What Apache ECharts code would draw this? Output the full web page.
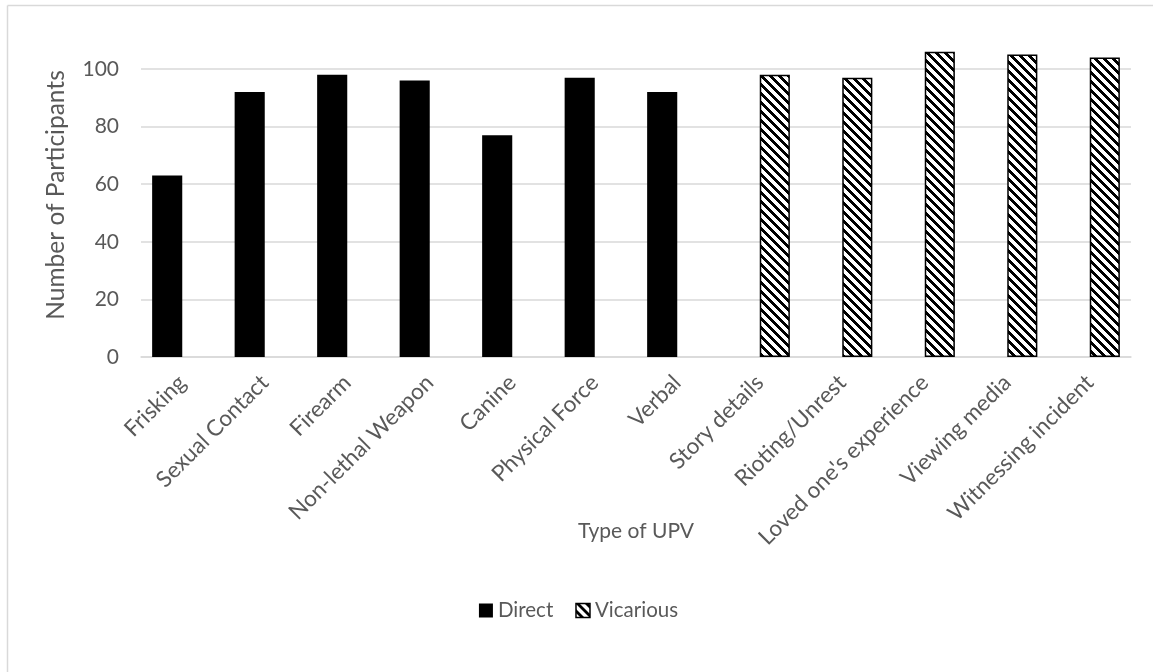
<!DOCTYPE html>
<html>
<head>
<meta charset="utf-8">
<script src="https://cdn.jsdelivr.net/npm/echarts@6/dist/echarts.min.js"></script>
<style>
html,body{margin:0;padding:0;background:#fff;}
#chart{width:1157px;height:672px;}
</style>
</head>
<body>
<div id="chart"></div>
<script>
const categories = ['Frisking','Sexual Contact','Firearm','Non-lethal Weapon','Canine','Physical Force','Verbal','Story details','Rioting/Unrest',"Loved one's experience",'Viewing media','Witnessing incident'];
const directValues = [63, 92, 98, 96, 77, 97, 92, null, null, null, null, null];
const vicariousValues = [null, null, null, null, null, null, null, 98, 97, 106, 105, 104];
const yTicks = [0, 20, 40, 60, 80, 100];

function makePattern() {
  const P = 9;
  const c = document.createElement('canvas');
  c.width = P; c.height = P;
  const ctx = c.getContext('2d');
  ctx.fillStyle = '#ffffff';
  ctx.fillRect(0, 0, P, P);
  ctx.fillStyle = '#000000';
  for (let y = 0; y < P; y++) {
    for (let x = 0; x < P; x++) {
      if (((x - y + 2 * P) % P) < 4) ctx.fillRect(x, y, 1, 1);
    }
  }
  return c;
}
const pattern = { image: makePattern(), repeat: 'repeat' };

const FONT = 'Lato';
const TXT = '#595959';
const chart = echarts.init(document.getElementById('chart'), null, { renderer: 'canvas' });
chart.setOption({
  animation: false,
  backgroundColor: '#ffffff',
  textStyle: { fontFamily: FONT },
  graphic: [
    { type: 'line', shape: { x1: 7.5, y1: 5.5, x2: 7.5, y2: 672 }, style: { stroke: '#d9d9d9', lineWidth: 1.5 } },
    { type: 'line', shape: { x1: 7.5, y1: 5.5, x2: 1153, y2: 5.5 }, style: { stroke: '#d9d9d9', lineWidth: 1.5 } }
  ],
  grid: { left: 141, right: 26, top: 69, bottom: 315, containLabel: false },
  legend: {
    bottom: 46,
    left: 'center',
    itemWidth: 14,
    itemHeight: 14,
    itemGap: 22,
    textStyle: { color: TXT, fontSize: 20.5, fontFamily: FONT },
    data: [
      { name: 'Direct', icon: 'rect', itemStyle: { color: '#000', borderWidth: 0 } },
      { name: 'Vicarious', icon: 'rect', itemStyle: { color: pattern, borderColor: '#000', borderWidth: 1.5 } }
    ]
  },
  xAxis: {
    type: 'category',
    data: categories,
    name: 'Type of UPV',
    nameLocation: 'middle',
    nameGap: 164,
    nameMoveOverlap: false,
    nameTextStyle: { color: TXT, fontSize: 21, fontFamily: FONT },
    axisLine: { show: true, lineStyle: { color: '#d9d9d9', width: 1.5 } },
    axisTick: { show: false },
    axisLabel: { rotate: 45, interval: 0, color: TXT, fontSize: 22.5, fontFamily: FONT, margin: 22 }
  },
  yAxis: {
    type: 'value',
    min: yTicks[0],
    max: yTicks[yTicks.length - 1],
    interval: 20,
    name: 'Number of Participants',
    nameLocation: 'middle',
    nameGap: 72,
    nameRotate: 90,
    nameMoveOverlap: false,
    nameTextStyle: { color: TXT, fontSize: 24.5, fontFamily: FONT, padding: [0, 0, 0, 36] },
    axisLine: { show: false },
    axisTick: { show: false },
    axisLabel: { color: TXT, fontSize: 21, fontFamily: FONT, margin: 22 },
    splitLine: { lineStyle: { color: '#d9d9d9', width: 1.5 } }
  },
  series: [
    {
      name: 'Direct', type: 'bar', data: directValues, clip: false,
      barGap: '0%', barCategoryGap: '27%',
      itemStyle: { color: '#000000' }
    },
    {
      name: 'Vicarious', type: 'bar', data: vicariousValues, clip: false,
      barGap: '0%', barCategoryGap: '27%',
      itemStyle: { color: pattern, borderColor: '#000000', borderWidth: 1.5 }
    }
  ]
});
</script>
</body>
</html>
